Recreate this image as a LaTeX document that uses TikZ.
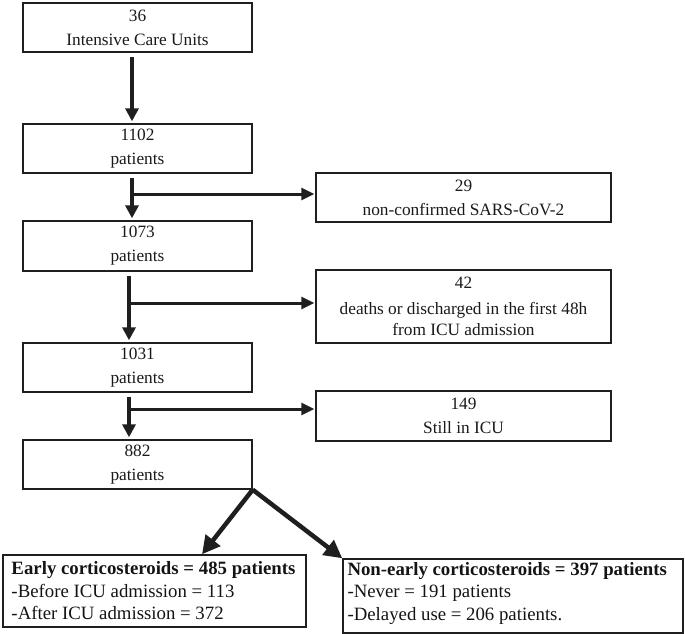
\documentclass[tikz,border=0pt]{standalone}
\usepackage{fontspec}
\setmainfont{Liberation Serif}
\usetikzlibrary{arrows.meta,calc}
\begin{document}
\begin{tikzpicture}[x=1pt,y=-1pt,
  box/.style={draw=black!88, line width=1.4pt, rectangle, inner sep=0pt, align=center,
    text=black!90, font=\fontsize{17.3}{24}\selectfont},
  sbox/.style={box, minimum width=229pt},
  rbox/.style={box, minimum width=295pt},
  btxt/.style={inner sep=0pt, align=left, text=black!92, anchor=west,
    font=\fontsize{18.8}{22.5}\selectfont},
  varr/.style={draw=black!88, line width=3.6pt, -{Triangle[length=13pt,width=13pt]},
    shorten <=4pt, shorten >=2pt},
  harr/.style={draw=black!88, line width=3pt, -{Triangle[length=13pt,width=12pt]},
    shorten >=1pt},
  darr/.style={draw=black!88, line width=4.5pt, -{Triangle[length=18pt,width=18pt]}},
]
\useasboundingbox (0,0) rectangle (685,634);

% left column
\node[sbox, minimum height=49pt] (n1) at (137.5,27.5) {36\\Intensive Care Units};
\node[sbox, minimum height=49pt] (n2) at (137.5,148.5) {1102\\patients};
\node[sbox, minimum height=50pt] (n3) at (137.5,246) {1073\\patients};
\node[sbox, minimum height=49pt] (n4) at (137.5,367.5) {1031\\patients};
\node[sbox, minimum height=49pt] (n5) at (137.5,464.5) {882\\patients};

% right column
\node[rbox, minimum height=49pt] (r1) at (463.5,197.5) {29\\non-confirmed SARS-CoV-2};
\node[rbox, minimum height=73pt] (r2) at (463.5,306.5) {42\\[2pt]deaths or discharged in the first 48h\\[-3pt]from ICU admission};
\node[rbox, minimum height=50pt] (r3) at (463.5,416) {149\\Still in ICU};

% bottom boxes
\node[box, minimum width=303pt, minimum height=72pt] (e1) at (154.5,591) {};
\node[btxt] (e1t) at ([xshift=9pt]e1.west) {\textbf{Early corticosteroids = 485 patients}\\-Before ICU admission = 113\\-After ICU admission = 372};
\node[box, minimum width=340pt, minimum height=74pt] (e2) at (513,596) {};
\node[btxt] (e2t) at ([xshift=5pt,yshift=3pt]e2.west) {\textbf{Non-early corticosteroids = 397 patients}\\-Never = 191 patients\\-Delayed use = 206 patients.};

% vertical arrows
\draw[varr] ([xshift=-5.5pt]n1.south) -- ([xshift=-5.5pt]n2.north);
\draw[varr] ([xshift=-5.5pt]n2.south) -- ([xshift=-5.5pt]n3.north);
\draw[varr] ([xshift=-8.5pt]n3.south) -- ([xshift=-8.5pt]n4.north);
\draw[varr] ([xshift=-8.5pt]n4.south) -- ([xshift=-8.5pt]n5.north);

% branch points
\coordinate (b1) at (132,194);
\coordinate (b2) at (129,303);
\coordinate (b3) at (129,409);
\draw[harr] (b1) -- (b1 -| r1.west);
\draw[harr] (b2) -- (b2 -| r2.west);
\draw[harr] (b3) -- (b3 -| r3.west);

% diagonal arrows
\draw[darr] (n5.south east) -- ([xshift=47.5pt]e1.north);
\draw[darr] (n5.south east) -- (e2.north west);
\end{tikzpicture}
\end{document}
